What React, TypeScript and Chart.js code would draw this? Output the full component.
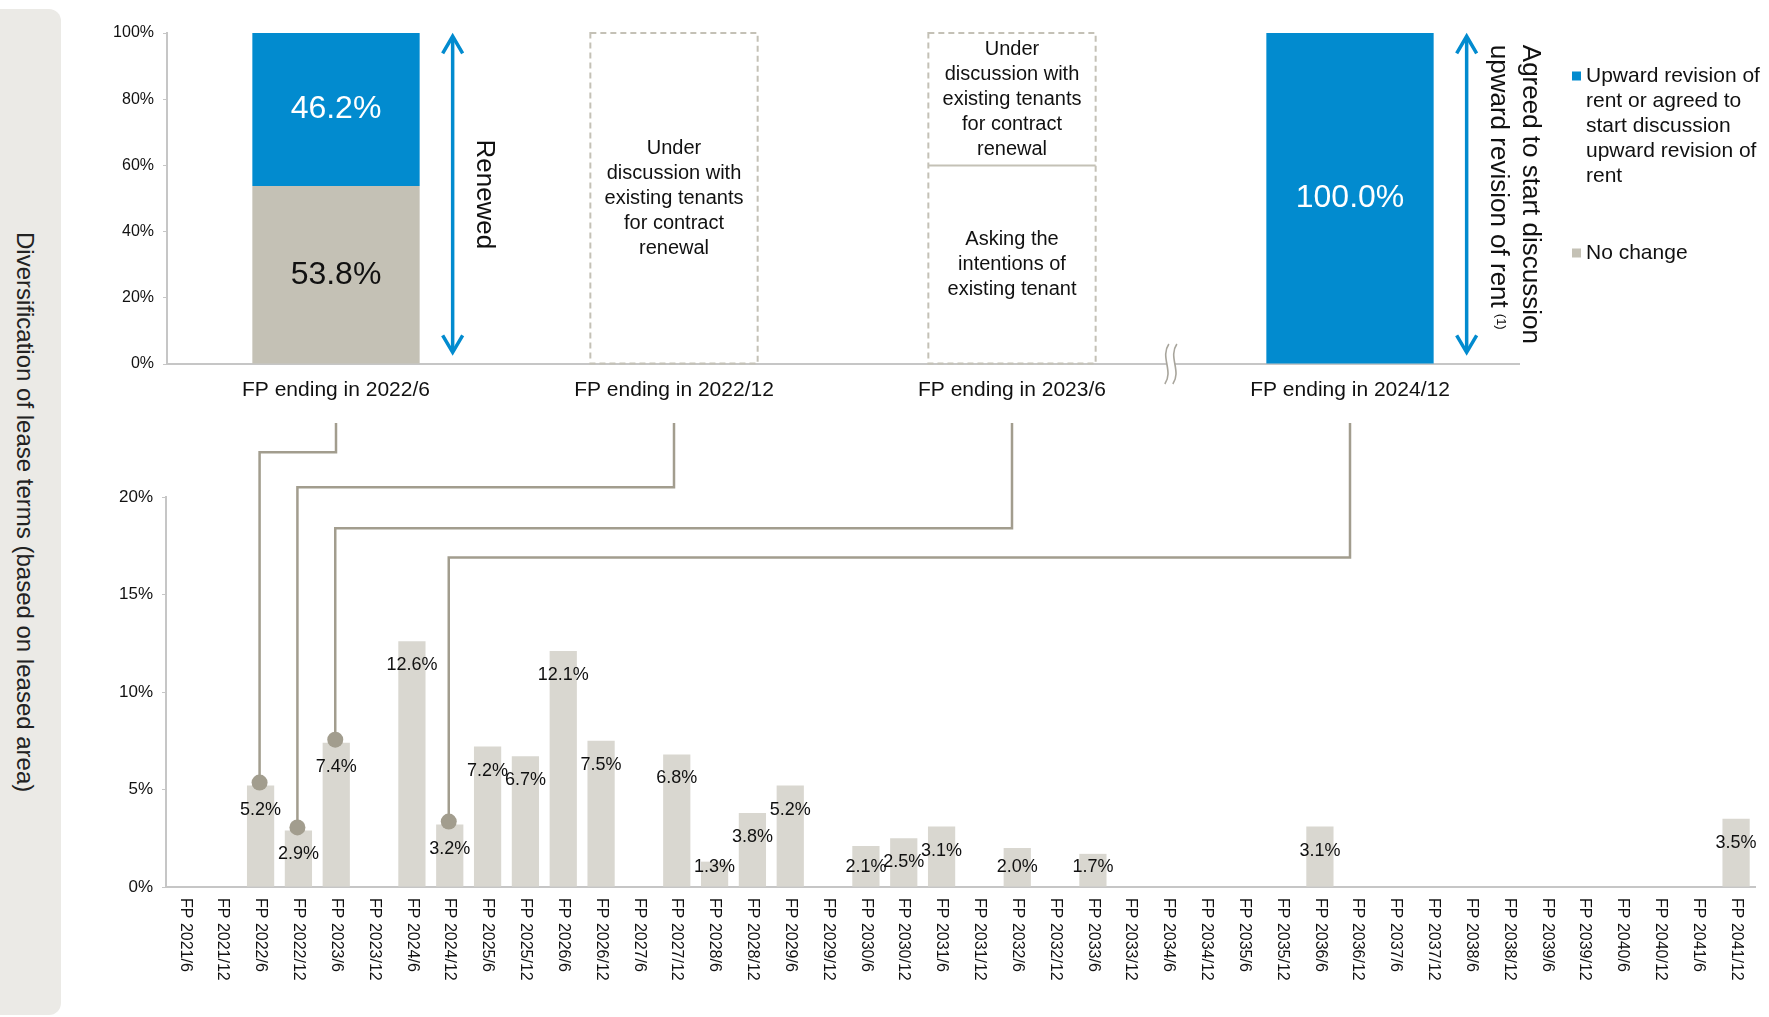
import React, { useEffect, useRef } from "react";
import { Chart, registerables } from "chart.js";

Chart.register(...registerables);

const FONT = '"Liberation Sans", Arial, Helvetica, sans-serif';

// ---------- Top chart data ----------
const topCategories = [
  "FP ending in 2022/6",
  "FP ending in 2022/12",
  "FP ending in 2023/6",
  "FP ending in 2024/12",
];
const noChangeValues = [53.8, null, null, null];
const upwardValues = [46.2, null, null, 100.0];
const askingValues = [null, null, 60, null];
const underDiscussionValues = [null, 100, 40, null];

const NO_CHANGE_LABEL = "No change";
const UPWARD_LABEL =
  "Upward revision of rent or agreed to start discussion upward revision of rent";
const ASKING_LABEL = "Asking the intentions of existing tenant";
const UNDER_DISCUSSION_LABEL =
  "Under discussion with existing tenants for contract renewal";

const arrowNotes = [
  { category: 0, lines: ["Renewed"], note: "" },
  {
    category: 3,
    lines: ["Agreed to start discussion", "upward revision of rent"],
    note: "(1)",
  },
];

// ---------- Bottom chart data ----------
const periodLabels = [
  "FP 2021/6", "FP 2021/12", "FP 2022/6", "FP 2022/12", "FP 2023/6", "FP 2023/12",
  "FP 2024/6", "FP 2024/12", "FP 2025/6", "FP 2025/12", "FP 2026/6", "FP 2026/12",
  "FP 2027/6", "FP 2027/12", "FP 2028/6", "FP 2028/12", "FP 2029/6", "FP 2029/12",
  "FP 2030/6", "FP 2030/12", "FP 2031/6", "FP 2031/12", "FP 2032/6", "FP 2032/12",
  "FP 2033/6", "FP 2033/12", "FP 2034/6", "FP 2034/12", "FP 2035/6", "FP 2035/12",
  "FP 2036/6", "FP 2036/12", "FP 2037/6", "FP 2037/12", "FP 2038/6", "FP 2038/12",
  "FP 2039/6", "FP 2039/12", "FP 2040/6", "FP 2040/12", "FP 2041/6", "FP 2041/12",
];
const expiryValues = [
  0, 0, 5.2, 2.9, 7.4, 0,
  12.6, 3.2, 7.2, 6.7, 12.1, 7.5,
  0, 6.8, 1.3, 3.8, 5.2, 0,
  2.1, 2.5, 3.1, 0, 2.0, 0,
  1.7, 0, 0, 0, 0, 0,
  3.1, 0, 0, 0, 0, 0,
  0, 0, 0, 0, 0, 3.5,
];
const bottomYTicksMax = 20;
// links: top category index -> bottom period, and level (in % of bottom scale) of the horizontal run
const linkedPeriods = ["FP 2022/6", "FP 2022/12", "FP 2023/6", "FP 2024/12"];
const connectorLevels = [22.3, 20.5, 18.4, 16.9];

// ---------- Styles ----------
const BLUE = "#028bcf";
const GREY_TOP = "#c4c1b5";
const GREY_BAR = "#d9d7d0";
const LINK = "#a29d8e";
const AXIS = "#c6c6c6";
const DASH = "#c4c1b6";
const TEXT = "#111111";

const W = 1769;
const H = 1017;
const TOP_H = 415;

function wrapText(ctx: any, text: string, maxWidth: number) {
  const words = text.split(" ");
  const lines: string[] = [];
  let cur = "";
  for (const w of words) {
    const test = cur ? cur + " " + w : w;
    if (ctx.measureText(test).width > maxWidth && cur) {
      lines.push(cur);
      cur = w;
    } else cur = test;
  }
  if (cur) lines.push(cur);
  return lines;
}

const topPlugin = {
  id: "topDecor",
  afterDatasetsDraw(chart: any) {
    const { ctx, chartArea, scales } = chart;
    const x = scales.x;
    const y = scales.y;
    ctx.save();

    // value labels in solid bars
    chart.data.datasets.forEach((ds: any, di: number) => {
      if (ds.dashed) return;
      const meta = chart.getDatasetMeta(di);
      meta.data.forEach((el: any, i: number) => {
        const v = ds.data[i];
        if (v == null || v <= 0) return;
        const p = el.getProps(["x", "y", "base"], true);
        ctx.fillStyle = ds.textColor;
        ctx.font = `32px ${FONT}`;
        ctx.textAlign = "center";
        ctx.textBaseline = "middle";
        ctx.fillText(v.toFixed(1) + "%", p.x, (p.y + p.base) / 2);
      });
    });

    // dashed (pending) boxes
    topCategories.forEach((_c, i) => {
      const segs: any[] = [];
      chart.data.datasets.forEach((ds: any, di: number) => {
        if (!ds.dashed) return;
        const v = ds.data[i];
        if (v == null || v <= 0) return;
        const el = chart.getDatasetMeta(di).data[i];
        const p = el.getProps(["x", "y", "base", "width"], true);
        segs.push({ label: ds.label, x: p.x, y: p.y, base: p.base, width: p.width });
      });
      if (!segs.length) return;
      const left = segs[0].x - segs[0].width / 2;
      const right = left + segs[0].width;
      const top = Math.min(...segs.map((s) => s.y));
      const bottom = Math.max(...segs.map((s) => s.base));
      ctx.strokeStyle = DASH;
      ctx.lineWidth = 2;
      ctx.setLineDash([6, 4]);
      ctx.strokeRect(left, top, right - left, bottom - top);
      ctx.setLineDash([]);
      segs.forEach((s) => {
        if (s.y > top + 1) {
          ctx.beginPath();
          ctx.moveTo(left, s.y);
          ctx.lineTo(right, s.y);
          ctx.stroke();
        }
        ctx.font = `20px ${FONT}`;
        ctx.fillStyle = TEXT;
        ctx.textAlign = "center";
        ctx.textBaseline = "middle";
        const lines = wrapText(ctx, s.label, s.width - 14);
        const lh = 25;
        const cy = (s.y + s.base) / 2;
        lines.forEach((ln, k) =>
          ctx.fillText(ln, s.x, cy + (k - (lines.length - 1) / 2) * lh)
        );
      });
    });

    // arrows with rotated captions
    const barW = chart.getDatasetMeta(1).data[0].getProps(["width"], true).width;
    arrowNotes.forEach((a) => {
      const ax = x.getPixelForValue(a.category) + barW / 2 + 33;
      const yTop = y.getPixelForValue(99);
      const yBot = y.getPixelForValue(3.5);
      ctx.strokeStyle = BLUE;
      ctx.lineWidth = 3.5;
      ctx.lineJoin = "miter";
      ctx.beginPath();
      ctx.moveTo(ax, yTop + 1);
      ctx.lineTo(ax, yBot - 1);
      ctx.stroke();
      ctx.beginPath();
      ctx.moveTo(ax - 10, yTop + 17);
      ctx.lineTo(ax, yTop);
      ctx.lineTo(ax + 10, yTop + 17);
      ctx.stroke();
      ctx.beginPath();
      ctx.moveTo(ax - 10, yBot - 17);
      ctx.lineTo(ax, yBot);
      ctx.lineTo(ax + 10, yBot - 17);
      ctx.stroke();

      ctx.font = `26px ${FONT}`;
      const widths = a.lines.map((l) => ctx.measureText(l).width);
      const maxW = Math.max(...widths);
      const midY = (yTop + yBot) / 2;
      const startY = midY - maxW / 2;
      const n = a.lines.length;
      a.lines.forEach((ln, j) => {
        const off = 32 + (n - 1 - j) * 32;
        ctx.save();
        ctx.translate(ax + off, startY);
        ctx.rotate(Math.PI / 2);
        ctx.fillStyle = TEXT;
        ctx.textAlign = "left";
        ctx.textBaseline = "middle";
        ctx.font = `26px ${FONT}`;
        ctx.fillText(ln, 0, 0);
        if (j === n - 1 && a.note) {
          const w = ctx.measureText(ln).width;
          ctx.font = `13px ${FONT}`;
          ctx.fillText(a.note, w + 6, -2);
        }
        ctx.restore();
      });
    });

    // axis break mark
    const p2 = x.getPixelForValue(2);
    const p3 = x.getPixelForValue(3);
    const bx = p2 + (p3 - p2) * 0.47;
    const by = chartArea.bottom;
    ctx.fillStyle = "#ffffff";
    ctx.fillRect(bx - 4, by - 3, 8, 6);
    ctx.strokeStyle = "#a8a59c";
    ctx.lineWidth = 1.6;
    for (const dx of [-4, 4]) {
      ctx.beginPath();
      ctx.moveTo(bx + dx + 2, by - 20);
      ctx.bezierCurveTo(bx + dx - 7, by - 7, bx + dx + 7, by + 7, bx + dx - 2, by + 20);
      ctx.stroke();
    }

    // legend (right side)
    const legendDs = chart.data.datasets.filter((d: any) => !d.dashed).slice().reverse();
    let ly = chartArea.top + 43;
    const lx = chartArea.right + 53;
    ctx.font = `21px ${FONT}`;
    ctx.textAlign = "left";
    ctx.textBaseline = "middle";
    legendDs.forEach((ds: any) => {
      ctx.fillStyle = ds.backgroundColor;
      ctx.fillRect(lx, ly - 4.5, 9, 9);
      ctx.fillStyle = TEXT;
      const lines = wrapText(ctx, ds.label, 180);
      lines.forEach((ln, k) => ctx.fillText(ln, lx + 14, ly + k * 25));
      ly += (lines.length - 1) * 25 + 77;
    });

    ctx.restore();
  },
};

function makeBottomPlugin(getTop: () => any) {
  return {
    id: "bottomDecor",
    afterDatasetsDraw(chart: any) {
      const { ctx, chartArea, scales } = chart;
      const x = scales.x;
      const y = scales.y;
      ctx.save();

      // rotated category labels
      ctx.font = `16px ${FONT}`;
      ctx.fillStyle = TEXT;
      ctx.textAlign = "left";
      ctx.textBaseline = "middle";
      periodLabels.forEach((lab, i) => {
        const px = x.getPixelForValue(i);
        ctx.save();
        ctx.translate(px, chartArea.bottom + 11);
        ctx.rotate(Math.PI / 2);
        ctx.fillText(lab, 0, 0);
        ctx.restore();
      });

      // data labels
      ctx.font = `18px ${FONT}`;
      ctx.textAlign = "center";
      ctx.textBaseline = "middle";
      ctx.fillStyle = TEXT;
      expiryValues.forEach((v, i) => {
        if (!v) return;
        const px = x.getPixelForValue(i);
        const top = y.getPixelForValue(v);
        const ly = Math.min(top + 24, chartArea.bottom - 20);
        ctx.fillText(v.toFixed(1) + "%", px, ly);
      });

      // connectors from top chart categories
      const topChart = getTop();
      if (topChart) {
        const tx = topChart.scales.x;
        linkedPeriods.forEach((per, k) => {
          const idx = periodLabels.indexOf(per);
          const xTop = tx.getPixelForValue(k);
          const xBot = x.getPixelForValue(idx) - 1;
          const yLevel = y.getPixelForValue(connectorLevels[k]);
          const yBar = y.getPixelForValue(expiryValues[idx]) - 3;
          ctx.strokeStyle = LINK;
          ctx.lineWidth = 2.5;
          ctx.lineJoin = "miter";
          ctx.beginPath();
          ctx.moveTo(xTop, 8);
          ctx.lineTo(xTop, yLevel);
          ctx.lineTo(xBot, yLevel);
          ctx.lineTo(xBot, yBar);
          ctx.stroke();
          ctx.fillStyle = LINK;
          ctx.beginPath();
          ctx.arc(xBot, yBar, 8, 0, Math.PI * 2);
          ctx.fill();
        });
      }
      ctx.restore();
    },
  };
}

export default function App() {
  const topRef = useRef<HTMLCanvasElement | null>(null);
  const botRef = useRef<HTMLCanvasElement | null>(null);

  useEffect(() => {
    let topChart: any = null;
    let botChart: any = null;
    if (!topRef.current || !botRef.current) return;

    topChart = new Chart(topRef.current, {
      type: "bar",
      data: {
        labels: topCategories,
        datasets: [
          { label: NO_CHANGE_LABEL, data: noChangeValues, backgroundColor: GREY_TOP, stack: "s", textColor: TEXT } as any,
          { label: UPWARD_LABEL, data: upwardValues, backgroundColor: BLUE, stack: "s", textColor: "#ffffff" } as any,
          { label: ASKING_LABEL, data: askingValues, backgroundColor: "rgba(0,0,0,0)", stack: "s", dashed: true } as any,
          { label: UNDER_DISCUSSION_LABEL, data: underDiscussionValues, backgroundColor: "rgba(0,0,0,0)", stack: "s", dashed: true } as any,
        ],
      },
      options: {
        responsive: false,
        animation: false,
        layout: { padding: { left: 0, right: 250, top: 33, bottom: 0 } },
        plugins: { legend: { display: false }, tooltip: { enabled: false } },
        datasets: { bar: { categoryPercentage: 1, barPercentage: 0.495, borderWidth: 0 } },
        scales: {
          x: {
            stacked: true,
            grid: { display: false, drawTicks: false },
            border: { color: AXIS, width: 2 },
            ticks: { font: { family: FONT, size: 21 }, color: TEXT, padding: 14, maxRotation: 0 },
            afterFit: (s: any) => { s.height = 51; },
          },
          y: {
            stacked: true,
            min: 0,
            max: 100,
            ticks: { stepSize: 20, callback: (v: any) => v + "%", font: { family: FONT, size: 16 }, color: TEXT, padding: 9 },
            grid: { drawOnChartArea: false, tickLength: 4, color: AXIS },
            border: { color: AXIS, width: 2 },
            afterFit: (s: any) => { s.width = 167; },
          },
        },
      } as any,
      plugins: [topPlugin as any],
    });

    botChart = new Chart(botRef.current, {
      type: "bar",
      data: {
        labels: periodLabels,
        datasets: [
          { label: "Diversification of lease terms", data: expiryValues, backgroundColor: GREY_BAR, categoryPercentage: 1, barPercentage: 0.72, borderWidth: 0 } as any,
        ],
      },
      options: {
        responsive: false,
        animation: false,
        layout: { padding: { left: 0, right: 14, top: 82, bottom: 0 } },
        plugins: { legend: { display: false }, tooltip: { enabled: false } },
        scales: {
          x: {
            grid: { display: false, drawTicks: false },
            border: { color: AXIS, width: 2 },
            ticks: { display: false },
            afterFit: (s: any) => { s.height = 130; },
          },
          y: {
            min: 0,
            max: bottomYTicksMax,
            ticks: { stepSize: 5, callback: (v: any) => v + "%", font: { family: FONT, size: 17 }, color: TEXT, padding: 9 },
            grid: { drawOnChartArea: false, tickLength: 4, color: AXIS },
            border: { color: AXIS, width: 2 },
            afterFit: (s: any) => { s.width = 166; },
          },
        },
      } as any,
      plugins: [makeBottomPlugin(() => topChart) as any],
    });

    return () => {
      if (botChart) botChart.destroy();
      if (topChart) topChart.destroy();
    };
  }, []);

  return (
    <div style={{ position: "absolute", left: 0, top: 0, width: W, height: H, overflow: "hidden", background: "#ffffff" }}>
      <div style={{ position: "absolute", left: -14, top: 9, width: 75, height: 1006, background: "#ebeae6", borderRadius: 12 }} />
      <div
        style={{
          position: "absolute", left: 10, top: 9, width: 30, height: 1006,
          writingMode: "vertical-rl", textAlign: "center", lineHeight: "30px",
          fontFamily: FONT, fontSize: 24, color: "#222222", whiteSpace: "nowrap",
        }}
      >
        Diversification of lease terms (based on leased area)
      </div>
      <canvas ref={topRef} width={W} height={TOP_H} style={{ position: "absolute", left: 0, top: 0, width: W, height: TOP_H }} />
      <canvas ref={botRef} width={W} height={H - TOP_H} style={{ position: "absolute", left: 0, top: TOP_H, width: W, height: H - TOP_H }} />
    </div>
  );
}
